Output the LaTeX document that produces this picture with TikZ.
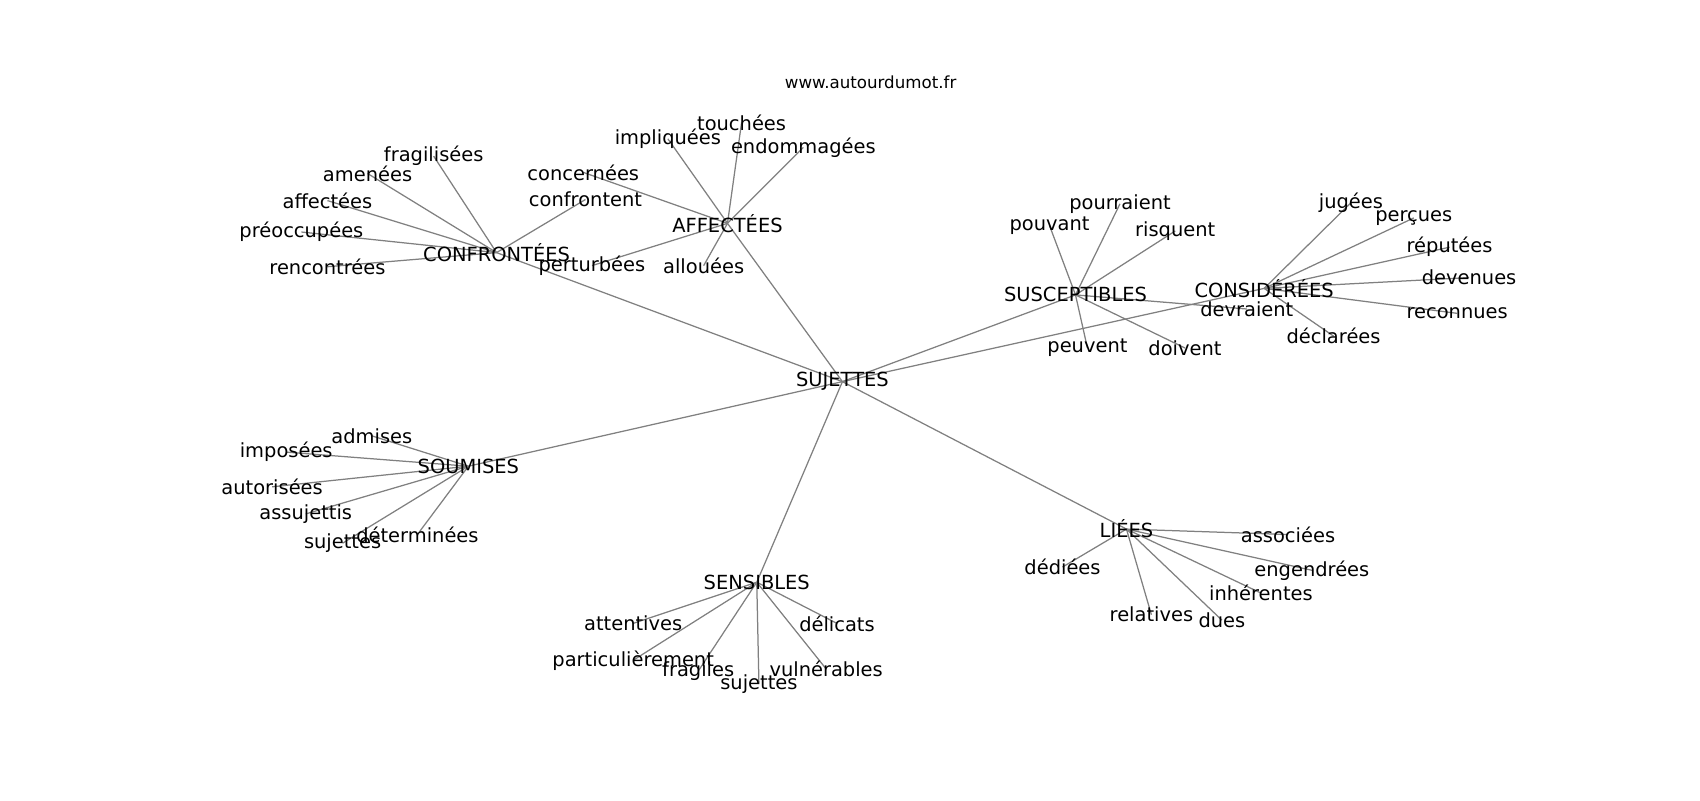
\documentclass[tikz,border=0pt]{standalone}
\usepackage{fontspec}
\setmainfont{DejaVu Sans}
\usetikzlibrary{backgrounds}
\tikzstyle{wlabel}=[inner sep=0pt, text=black, font=\fontsize{14}{16}\selectfont]
\tikzstyle{tlabel}=[inner sep=0pt, text=black, font=\fontsize{12}{14}\selectfont]
\tikzstyle{pline}=[-, draw=black!50, line width=0.9pt]
\begin{document}
\begin{tikzpicture}[x=0.7806pt, y=-0.7806pt]
\useasboundingbox (0,0) rectangle (1568,738);

\node (TITLE) [tlabel] at (803,76) {www.autourdumot.fr};

\node (SUJETTES) [wlabel] at (777,352) {SUJETTES};

\node (CONFRONTEES) [wlabel] at (458,233) {CONFRONTÉES};
\node (FRAGILISEES) [wlabel] at (400,144) {fragilisées};
\node (AMENEES) [wlabel] at (339,160) {amenées};
\node (AFFECTEES2) [wlabel] at (302,185) {affectées};
\node (PREOCCUPEES) [wlabel] at (278,214) {préoccupées};
\node (RENCONTREES) [wlabel] at (302,246) {rencontrées};
\node (CONFRONTENT) [wlabel] at (540,184) {confrontent};

\node (AFFECTEES) [wlabel] at (671,206) {AFFECTÉES};
\node (IMPLIQUEES) [wlabel] at (616,128) {impliquées};
\node (TOUCHEES) [wlabel] at (684,113) {touchées};
\node (ENDOMMAGEES) [wlabel] at (741,136) {endommagées};
\node (CONCERNEES) [wlabel] at (538,159) {concernées};
\node (PERTURBEES) [wlabel] at (546,245) {perturbées};
\node (ALLOUEES) [wlabel] at (649,245) {allouées};

\node (SUSCEPTIBLES) [wlabel] at (992,272) {SUSCEPTIBLES};
\node (POUVANT) [wlabel] at (968,208) {pouvant};
\node (POURRAIENT) [wlabel] at (1033,188) {pourraient};
\node (RISQUENT) [wlabel] at (1084,213) {risquent};
\node (PEUVENT) [wlabel] at (1003,321) {peuvent};
\node (DOIVENT) [wlabel] at (1093,321) {doivent};
\node (DEVRAIENT) [wlabel] at (1150,285) {devraient};

\node (CONSIDEREES) [wlabel] at (1166,266) {CONSIDÉRÉES};
\node (JUGEES) [wlabel] at (1246,187) {jugées};
\node (PERCUES) [wlabel] at (1304,201) {perçues};
\node (REPUTEES) [wlabel] at (1337,228) {réputées};
\node (DEVENUES) [wlabel] at (1355,256) {devenues};
\node (RECONNUES) [wlabel] at (1344,289) {reconnues};
\node (DECLAREES) [wlabel] at (1230,310) {déclarées};

\node (SOUMISES) [wlabel] at (432,430) {SOUMISES};
\node (ADMISES) [wlabel] at (343,402) {admises};
\node (IMPOSEES) [wlabel] at (264,417) {imposées};
\node (AUTORISEES) [wlabel] at (251,449) {autorisées};
\node (ASSUJETTIS) [wlabel] at (282,474) {assujettis};
\node (SOUSUJ) [wlabel] at (316,501) {sujettes};
\node (DETERMINEES) [wlabel] at (385,493) {déterminées};

\node (SENSIBLES) [wlabel] at (698,537) {SENSIBLES};
\node (ATTENTIVES) [wlabel] at (584,575) {attentives};
\node (PARTIC) [wlabel] at (584,609) {particulièrement};
\node (FRAGILES) [wlabel] at (644,619) {fragiles};
\node (SENSUJ) [wlabel] at (700,631) {sujettes};
\node (VULNERABLES) [wlabel] at (762,617) {vulnérables};
\node (DELICATS) [wlabel] at (772,575) {délicats};

\node (LIEES) [wlabel] at (1039,488) {LIÉES};
\node (ASSOCIEES) [wlabel] at (1188,493) {associées};
\node (ENGENDREES) [wlabel] at (1210,526) {engendrées};
\node (INHERENTES) [wlabel] at (1163,547) {inhérentes};
\node (DUES) [wlabel] at (1127,572) {dues};
\node (RELATIVES) [wlabel] at (1062,567) {relatives};
\node (DEDIEES) [wlabel] at (980,523) {dédiées};

\begin{scope}[on background layer]
 \draw[pline] (SUJETTES.center) -- (CONFRONTEES.center);
 \draw[pline] (SUJETTES.center) -- (AFFECTEES.center);
 \draw[pline] (SUJETTES.center) -- (SUSCEPTIBLES.center);
 \draw[pline] (SUJETTES.center) -- (CONSIDEREES.center);
 \draw[pline] (SUJETTES.center) -- (SOUMISES.center);
 \draw[pline] (SUJETTES.center) -- (SENSIBLES.center);
 \draw[pline] (SUJETTES.center) -- (LIEES.center);

 \draw[pline] (CONFRONTEES.center) -- (FRAGILISEES.center);
 \draw[pline] (CONFRONTEES.center) -- (AMENEES.center);
 \draw[pline] (CONFRONTEES.center) -- (AFFECTEES2.center);
 \draw[pline] (CONFRONTEES.center) -- (PREOCCUPEES.center);
 \draw[pline] (CONFRONTEES.center) -- (RENCONTREES.center);
 \draw[pline] (CONFRONTEES.center) -- (CONFRONTENT.center);

 \draw[pline] (AFFECTEES.center) -- (IMPLIQUEES.center);
 \draw[pline] (AFFECTEES.center) -- (TOUCHEES.center);
 \draw[pline] (AFFECTEES.center) -- (ENDOMMAGEES.center);
 \draw[pline] (AFFECTEES.center) -- (CONCERNEES.center);
 \draw[pline] (AFFECTEES.center) -- (PERTURBEES.center);
 \draw[pline] (AFFECTEES.center) -- (ALLOUEES.center);

 \draw[pline] (SUSCEPTIBLES.center) -- (POUVANT.center);
 \draw[pline] (SUSCEPTIBLES.center) -- (POURRAIENT.center);
 \draw[pline] (SUSCEPTIBLES.center) -- (RISQUENT.center);
 \draw[pline] (SUSCEPTIBLES.center) -- (PEUVENT.center);
 \draw[pline] (SUSCEPTIBLES.center) -- (DOIVENT.center);
 \draw[pline] (SUSCEPTIBLES.center) -- (DEVRAIENT.center);

 \draw[pline] (CONSIDEREES.center) -- (JUGEES.center);
 \draw[pline] (CONSIDEREES.center) -- (PERCUES.center);
 \draw[pline] (CONSIDEREES.center) -- (REPUTEES.center);
 \draw[pline] (CONSIDEREES.center) -- (DEVENUES.center);
 \draw[pline] (CONSIDEREES.center) -- (RECONNUES.center);
 \draw[pline] (CONSIDEREES.center) -- (DECLAREES.center);

 \draw[pline] (SOUMISES.center) -- (ADMISES.center);
 \draw[pline] (SOUMISES.center) -- (IMPOSEES.center);
 \draw[pline] (SOUMISES.center) -- (AUTORISEES.center);
 \draw[pline] (SOUMISES.center) -- (ASSUJETTIS.center);
 \draw[pline] (SOUMISES.center) -- (SOUSUJ.center);
 \draw[pline] (SOUMISES.center) -- (DETERMINEES.center);

 \draw[pline] (SENSIBLES.center) -- (ATTENTIVES.center);
 \draw[pline] (SENSIBLES.center) -- (PARTIC.center);
 \draw[pline] (SENSIBLES.center) -- (FRAGILES.center);
 \draw[pline] (SENSIBLES.center) -- (SENSUJ.center);
 \draw[pline] (SENSIBLES.center) -- (VULNERABLES.center);
 \draw[pline] (SENSIBLES.center) -- (DELICATS.center);

 \draw[pline] (LIEES.center) -- (ASSOCIEES.center);
 \draw[pline] (LIEES.center) -- (ENGENDREES.center);
 \draw[pline] (LIEES.center) -- (INHERENTES.center);
 \draw[pline] (LIEES.center) -- (DUES.center);
 \draw[pline] (LIEES.center) -- (RELATIVES.center);
 \draw[pline] (LIEES.center) -- (DEDIEES.center);
\end{scope}

\end{tikzpicture}
\end{document}
